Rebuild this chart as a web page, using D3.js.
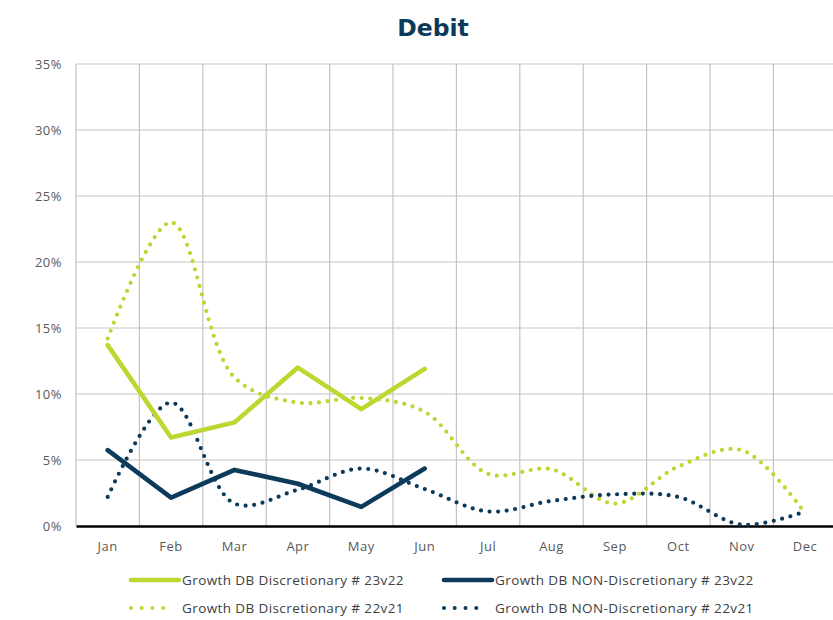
<!DOCTYPE html>
<html>
<head>
<meta charset="utf-8">
<script src="https://cdn.jsdelivr.net/npm/d3@7"></script>
<style>
  html, body { margin: 0; padding: 0; background: #fff; }
  svg { display: block; }
</style>
</head>
<body>
<svg id="chart" width="833" height="620"></svg>
<script>
// Monthly growth, debit card spend (%)
const months = ["Jan", "Feb", "Mar", "Apr", "May", "Jun", "Jul", "Aug", "Sep", "Oct", "Nov", "Dec"];
const yTicks = [0, 5, 10, 15, 20, 25, 30, 35];

const discretionary23v22 = [13.7, 6.7, 7.85, 12.0, 8.85, 11.9];
const nonDiscretionary23v22 = [5.75, 2.15, 4.25, 3.2, 1.45, 4.35];
const discretionary22v21 = [14.2, 23.0, 11.25, 9.35, 9.7, 8.65, 3.95, 4.3, 1.7, 4.5, 5.75, 0.95];
const nonDiscretionary22v21 = [2.2, 9.35, 1.7, 2.75, 4.35, 2.8, 1.1, 1.9, 2.4, 2.2, 0.1, 1.1];

const GREEN = "#bdd630";
const NAVY = "#0c3a5b";
const FONT = "Open Sans, sans-serif";

const svg = d3.select("#chart");
const plotLeft = 76, plotTop = 64, plotBottom = 526;
const band = 63.4;
const plotRight = plotLeft + band * months.length;

const x = d3.scaleBand().domain(months).range([plotLeft, plotRight]);
const y = d3.scaleLinear().domain([0, 35]).range([plotBottom, plotTop]);
const cx = m => x(m) + x.bandwidth() / 2;

// Title
svg.append("text")
  .attr("x", 433).attr("y", 36)
  .attr("text-anchor", "middle")
  .attr("font-family", "DejaVu Sans, Verdana, sans-serif")
  .attr("font-weight", "bold")
  .attr("font-size", 23.5)
  .attr("fill", NAVY)
  .text("Debit");

// Grid
const grid = svg.append("g");
grid.selectAll("line.h").data(yTicks.filter(t => t > 0)).join("line")
  .attr("class", "h")
  .attr("x1", plotLeft).attr("x2", plotRight)
  .attr("y1", d => y(d)).attr("y2", d => y(d))
  .attr("stroke", "#c3c3c3").attr("stroke-width", 1.2);
grid.selectAll("line.v").data(months.map(m => x(m)).concat([plotRight])).join("line")
  .attr("class", "v")
  .attr("x1", d => d).attr("x2", d => d)
  .attr("y1", plotTop).attr("y2", plotBottom)
  .attr("stroke", "#c3c3c3").attr("stroke-width", 1.2);

// Y axis labels
const yAxis = d3.axisLeft(y).tickValues(yTicks).tickFormat(d => d + "%").tickSize(0).tickPadding(14);
svg.append("g").attr("transform", `translate(${plotLeft},0)`).call(yAxis)
  .call(g => g.select(".domain").remove())
  .call(g => g.selectAll("text")
    .attr("font-family", FONT).attr("font-size", 13).attr("letter-spacing", 0.5).attr("fill", "#595959"));

// X axis
const xAxis = d3.axisBottom(x).tickSize(0).tickPadding(16);
svg.append("g").attr("transform", `translate(0,${plotBottom})`).call(xAxis)
  .call(g => g.select(".domain").attr("stroke", "#000").attr("stroke-width", 2.4))
  .call(g => g.selectAll("text")
    .attr("font-family", FONT).attr("font-size", 13).attr("letter-spacing", 0.5).attr("fill", "#595959"));

// Series
const solid = d3.line().x((d, i) => cx(months[i])).y(d => y(d));
const smooth = d3.line().x((d, i) => cx(months[i])).y(d => y(d)).curve(d3.curveCatmullRom.alpha(0.5));

const series = [
  { name: "Growth DB Discretionary # 22v21", data: discretionary22v21, color: GREEN, dotted: true },
  { name: "Growth DB NON-Discretionary # 22v21", data: nonDiscretionary22v21, color: NAVY, dotted: true },
  { name: "Growth DB Discretionary # 23v22", data: discretionary23v22, color: GREEN, dotted: false },
  { name: "Growth DB NON-Discretionary # 23v22", data: nonDiscretionary23v22, color: NAVY, dotted: false }
];

series.forEach(s => {
  svg.append("path")
    .datum(s.data)
    .attr("d", s.dotted ? smooth : solid)
    .attr("fill", "none")
    .attr("stroke", s.color)
    .attr("stroke-width", s.dotted ? 4.2 : 4.6)
    .attr("stroke-linecap", "round")
    .attr("stroke-linejoin", "round")
    .attr("stroke-dasharray", s.dotted ? "0 8.6" : null);
});

// Legend
const legendItems = [
  { name: "Growth DB Discretionary # 23v22", color: GREEN, dotted: false, lx: 131, ly: 580 },
  { name: "Growth DB NON-Discretionary # 23v22", color: NAVY, dotted: false, lx: 444, ly: 580 },
  { name: "Growth DB Discretionary # 22v21", color: GREEN, dotted: true, lx: 131, ly: 608 },
  { name: "Growth DB NON-Discretionary # 22v21", color: NAVY, dotted: true, lx: 444, ly: 608 }
];
const legend = svg.append("g");
legendItems.forEach(it => {
  const g = legend.append("g");
  g.append("line")
    .attr("x1", it.lx).attr("x2", it.dotted ? it.lx + 43 : it.lx + 48)
    .attr("y1", it.ly).attr("y2", it.ly)
    .attr("stroke", it.color)
    .attr("stroke-width", it.dotted ? 4 : 4.6)
    .attr("stroke-linecap", "round")
    .attr("stroke-dasharray", it.dotted ? "0 10.75" : null);
  g.append("text")
    .attr("x", it.lx + 51)
    .attr("y", it.ly + 5)
    .attr("font-family", FONT)
    .attr("font-size", 13.5)
    .attr("letter-spacing", 0.4)
    .attr("fill", "#404040")
    .text(it.name);
});
</script>
</body>
</html>
